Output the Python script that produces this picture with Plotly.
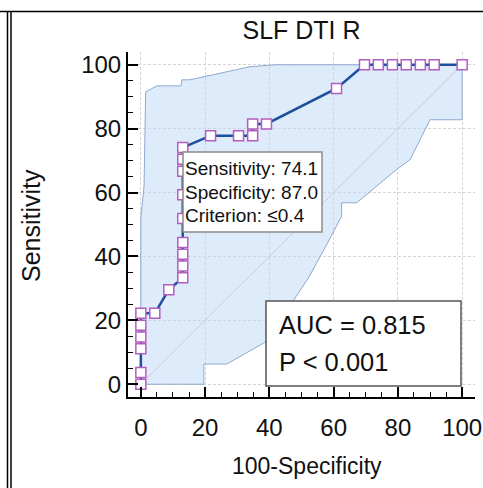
import plotly.graph_objects as go

# ROC curve points (100-Specificity, Sensitivity)
roc_x = [0, 0, 0, 0, 0, 0, 4.35, 8.7, 13.04, 13.04, 13.04, 13.04, 13.04, 13.04, 13.04, 13.04, 13.04,
         21.7, 30.4, 34.8, 34.8, 39.1, 60.9, 69.6, 73.9, 78.3, 82.6, 87.0, 91.3, 100]
roc_y = [0, 3.7, 11.1, 14.8, 18.5, 22.2, 22.2, 29.6, 33.3, 37.0, 40.7, 44.4, 51.9, 59.3, 66.7, 70.4, 74.1,
         77.8, 77.8, 77.8, 81.5, 81.5, 92.6, 100, 100, 100, 100, 100, 100, 100]

# Confidence band polygon (upper bound then lower bound back)
band_x = [0, 0, 1, 1.5, 5, 12.5, 12.8, 15.3, 34, 42, 100,
          100, 90, 83.8, 79.6, 67.2, 62.5, 62.5, 58, 52, 46, 41, 38.6, 34, 26.7, 19.6, 19.6, 0]
band_y = [0, 52, 62, 91.5, 93.4, 93.4, 95.3, 95.3, 99.4, 100, 100,
          82.8, 82.8, 70.3, 67.2, 56.8, 56.8, 52.6, 44, 33, 24, 17, 13.1, 10.4, 6.3, 6.3, 0, 0]

diag = [0, 100]
tick_vals = [0, 20, 40, 60, 80, 100]

title_text = "SLF DTI R"
x_title = "100-Specificity"
y_title = "Sensitivity"
crit_lines = ["Sensitivity: 74.1", "Specificity: 87.0", "Criterion: \u22640.4"]
auc_lines = ["AUC = 0.815", "P < 0.001"]

W, H = 483, 488
L, R, T, B = 128, 475, 52, 397


def px(xp):
    return (xp - L) / (R - L)


def py(yp):
    return (B - yp) / (B - T)


FONT = "Liberation Sans, Arial, sans-serif"

fig = go.Figure()
fig.add_trace(go.Scatter(x=band_x, y=band_y, mode="lines", fill="toself",
                         fillcolor="rgba(190,215,246,0.5)",
                         line=dict(color="#8fa9cf", width=1), hoverinfo="skip", showlegend=False))
fig.add_trace(go.Scatter(x=diag, y=diag, mode="lines",
                         line=dict(color="#d6c6da", width=1), showlegend=False))
fig.add_trace(go.Scatter(x=roc_x, y=roc_y, mode="lines+markers",
                         line=dict(color="#1d4f9c", width=2.5),
                         marker=dict(symbol="square", size=10, color="white",
                                     line=dict(color="#b45cc0", width=1.5)),
                         showlegend=False))

axis_common = dict(range=[-4, 104], tickvals=tick_vals, showline=True, linecolor="black", linewidth=2,
                   ticks="inside", ticklen=10, tickwidth=1.5, tickcolor="black",
                   showgrid=True, gridcolor="#d4d4d4", griddash="3px,2px", gridwidth=1,
                   zeroline=False, tickfont=dict(family=FONT, size=24, color="#111"),
                   minor=dict(dtick=5, ticks="inside", ticklen=5, tickwidth=1, tickcolor="black",
                              showgrid=False))
fig.update_xaxes(**axis_common, ticklabelstandoff=8)
fig.update_yaxes(**axis_common)

shapes = [
    # outer frame lines
    dict(type="line", xref="paper", yref="paper", x0=px(0), x1=px(483), y0=py(11.5), y1=py(11.5),
         line=dict(color="black", width=1.5)),
    dict(type="line", xref="paper", yref="paper", x0=px(7.5), x1=px(7.5), y0=py(11.5), y1=py(488),
         line=dict(color="black", width=1.5)),
    dict(type="line", xref="paper", yref="paper", x0=px(11), x1=px(11), y0=py(11.5), y1=py(488),
         line=dict(color="black", width=1.5)),
    # criterion box
    dict(type="rect", xref="paper", yref="paper", x0=px(183), x1=px(322), y0=py(152), y1=py(232),
         fillcolor="white", line=dict(color="#8a8a8a", width=1.5), layer="above"),
    # AUC box
    dict(type="rect", xref="paper", yref="paper", x0=px(266), x1=px(461), y0=py(301), y1=py(386),
         fillcolor="white", line=dict(color="#555555", width=1.5), layer="above"),
]

annotations = [
    dict(text=x_title, xref="paper", yref="paper", x=px(307), y=py(466), showarrow=False,
         font=dict(family=FONT, size=23, color="#111"), xanchor="center", yanchor="middle"),
    dict(text=y_title, xref="paper", yref="paper", x=px(31), y=py(226), showarrow=False, textangle=-90,
         font=dict(family=FONT, size=25, color="#111"), xanchor="center", yanchor="middle"),
]
for i, t in enumerate(crit_lines):
    annotations.append(dict(text=t, xref="paper", yref="paper", x=px(183), y=py(168 + 24 * i),
                            showarrow=False, xanchor="left", yanchor="middle",
                            font=dict(family=FONT, size=19, color="#111")))
for i, t in enumerate(auc_lines):
    annotations.append(dict(text=t, xref="paper", yref="paper", x=px(277), y=py(325 + 37 * i),
                            showarrow=False, xanchor="left", yanchor="middle",
                            font=dict(family=FONT, size=25.5, color="#111")))

fig.update_layout(
    width=W, height=H, margin=dict(l=L, r=W - R, t=T, b=H - B, autoexpand=False),
    paper_bgcolor="white", plot_bgcolor="white",
    title=dict(text=title_text, x=px(301.5), xref="paper", y=1 - 30 / H, yref="container",
               xanchor="center", yanchor="middle", font=dict(family=FONT, size=25, color="#111")),
    shapes=shapes, annotations=annotations,
)

fig.write_html("out.html")
